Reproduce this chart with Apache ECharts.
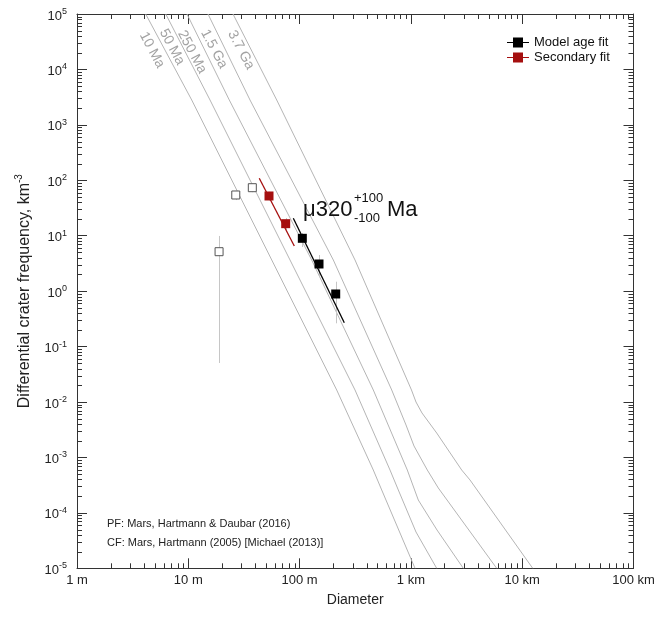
<!DOCTYPE html>
<html><head><meta charset="utf-8">
<script src="https://cdn.jsdelivr.net/npm/echarts@6/dist/echarts.min.js"></script>
<style>html,body{margin:0;padding:0;background:#fff}#c{width:661px;height:618px}</style>
</head><body><div id="c"></div>
<script>
const FONT = '"Liberation Sans", Arial, Helvetica, sans-serif';

// Isochrons: [diameter (m), differential crater frequency (km^-3)]
const iso10Ma  = [[4.14,1e5],[10.73,2809],[56.2,3.65],[215.4,0.01648],[459.4,5.93e-4],[546.5,2.59e-4],[1089,1e-5]];
const iso50Ma  = [[6.27,1e5],[15.67,2809],[82.0,3.65],[314.6,0.01648],[649,5.93e-4],[770.6,2.59e-4],[1111,4.52e-5],[1705,1e-5]];
const iso250Ma = [[9.73,1e5],[23.35,2809],[128.4,3.65],[459.4,0.01648],[928.3,5.93e-4],[1165,1.706e-4],[1716,4.91e-5],[2957,1e-5]];
const iso1_5Ga = [[15.03,1e5],[35.84,2809],[200.9,3.65],[672.3,0.01648],[903.6,3.85e-3],[1066,1.61e-3],[1404,5.93e-4],[1763,2.81e-4],[5900,1e-5]];
const iso3_7Ga = [[25.21,1e5],[62.28,2809],[314.6,3.65],[1012,0.01648],[1111,0.01],[1258,6.34e-3],[1705,2.76e-3],[2860,5.93e-4],[3396,3.92e-4],[12430,1e-5]];
const isoNames = ['10 Ma','50 Ma','250 Ma','1.5 Ga','3.7 Ga'];

// Crater counts (bin diameter m, frequency, error low, error high)
const openD  = [18.9, 26.7, 37.6];
const openN  = [5.15, 54.3, 73.5];
const openLo = [0.0506, 44, 61];
const openHi = [9.9, 64, 86];
const secD   = [53.1, 75.0];
const secN   = [52.1, 16.5];
const secLo  = [43, 12.7];
const secHi  = [62, 20.9];
const modelD  = [105.8, 149.4, 211.1];
const modelN  = [8.98, 3.09, 0.889];
const modelLo = [6.26, 1.82, 0.263];
const modelHi = [11.2, 4.49, 1.48];
// Fit lines
const modelFit = [[87.8, 20.6], [252.1, 0.27]];
const secFit   = [[43.4, 108.6], [89.6, 6.52]];

// Axis decades (tick labels)
const xDecades = [1, 10, 100, 1000, 10000, 100000];
const yDecades = [1e-5,1e-4,1e-3,1e-2,1e-1,1,10,100,1e3,1e4,1e5];
const minorMult = [2,3,4,5,6,7,8,9];
const xMinor = []; xDecades.slice(0,-1).forEach(d => minorMult.forEach(m => xMinor.push(d*m)));
const yMinor = []; yDecades.slice(0,-1).forEach(d => minorMult.forEach(m => yMinor.push(d*m)));

const chart = echarts.init(document.getElementById('c'), null, {renderer:'canvas'});

const fmtD = v => { v = Math.round(v); return v >= 1000 ? (v/1000) + ' km' : v + ' m'; };
const fmtN = v => { const e = Math.round(Math.log10(v)); return '{b|10}{e|' + e + '}'; };

function errRender(params, api){
  const x = api.value(0), lo = api.value(1), hi = api.value(2);
  const a = api.coord([x, lo]), b = api.coord([x, hi]);
  const px = Math.round(a[0]) + 0.5;
  return {type:'line', shape:{x1:px, y1:a[1], x2:px, y2:b[1]}, style:{stroke:'#c6c6c6', lineWidth:1}};
}
function xMinorRender(params, api){
  const cs = params.coordSys;
  const px = Math.round(api.coord([api.value(0), 1])[0]) + 0.5;
  const b = cs.y + cs.height, t = cs.y;
  return {type:'group', children:[
    {type:'line', shape:{x1:px, y1:b, x2:px, y2:b-5}, style:{stroke:'#333', lineWidth:1}},
    {type:'line', shape:{x1:px, y1:t, x2:px, y2:t+5}, style:{stroke:'#333', lineWidth:1}}
  ]};
}
function yMinorRender(params, api){
  const cs = params.coordSys;
  const py = Math.round(api.coord([1, api.value(1)])[1]) + 0.5;
  const l = cs.x, r = cs.x + cs.width;
  return {type:'group', children:[
    {type:'line', shape:{x1:l, y1:py, x2:l+5, y2:py}, style:{stroke:'#333', lineWidth:1}},
    {type:'line', shape:{x1:r, y1:py, x2:r-5, y2:py}, style:{stroke:'#333', lineWidth:1}}
  ]};
}

const axisLineStyle = {show:true, onZero:false, lineStyle:{color:'#333', width:1}};
const axisTickStyle = {show:true, inside:true, length:10, lineStyle:{color:'#333', width:1}};

const xBase = {type:'log', logBase:10, min:1, max:100000, interval:1, gridIndex:0,
  axisLine:axisLineStyle, axisTick:axisTickStyle, splitLine:{show:false}, minorTick:{show:false}};
const yBase = {type:'log', logBase:10, min:1e-5, max:1e5, interval:1, gridIndex:0,
  axisLine:axisLineStyle, axisTick:axisTickStyle, splitLine:{show:false}, minorTick:{show:false}};

const isoData = [iso10Ma, iso50Ma, iso250Ma, iso1_5Ga, iso3_7Ga];
const series = isoData.map((d, i) => ({
  name: isoNames[i], type:'line', data:d, showSymbol:false, symbol:'none', z:1,
  lineStyle:{color:'#b5b5b5', width:1}, silent:true, clip:true
}));

const RED = '#a50f0f';
series.push(
  {name:'errors', type:'custom', renderItem:errRender, z:2, silent:true,
   encode:{x:0, y:[1,2]},
   data: openD.map((d,i)=>[d, openLo[i], openHi[i]])
     .concat(secD.map((d,i)=>[d, secLo[i], secHi[i]]))
     .concat(modelD.map((d,i)=>[d, modelLo[i], modelHi[i]]))},
  {name:'secFit', type:'line', data:secFit, showSymbol:false, symbol:'none', z:3,
   lineStyle:{color:RED, width:1.3}, silent:true},
  {name:'modelFit', type:'line', data:modelFit, showSymbol:false, symbol:'none', z:3,
   lineStyle:{color:'#000', width:1.3}, silent:true},
  {name:'Other bins', type:'scatter', data:openD.map((d,i)=>[d, openN[i]]), symbol:'rect', symbolSize:8, z:4,
   itemStyle:{color:'#fff', borderColor:'#555', borderWidth:1, opacity:1}, silent:true},
  {name:'Secondary fit', type:'scatter', data:secD.map((d,i)=>[d, secN[i]]), symbol:'rect', symbolSize:9, z:4,
   itemStyle:{color:RED, opacity:1}, silent:true},
  {name:'Model age fit', type:'scatter', data:modelD.map((d,i)=>[d, modelN[i]]), symbol:'rect', symbolSize:9, z:4,
   itemStyle:{color:'#000', opacity:1}, silent:true},
  {name:'xminor', type:'custom', renderItem:xMinorRender, z:5, silent:true, encode:{x:0, y:1},
   data:xMinor.map(v=>[v, 1])},
  {name:'yminor', type:'custom', renderItem:yMinorRender, z:5, silent:true, encode:{x:0, y:1},
   data:yMinor.map(v=>[1, v])}
);

const ICON = 'path://M0,4.4H6V0H16V4.4H22V5.6H16V10H6V5.6H0Z';
const isoLabelPos = [[152,50],[172,47],[192,52],[214,49],[241,50]];
const ROT = -62 * Math.PI / 180;

const graphic = isoNames.map((t, i) => ({
  type:'text', x:isoLabelPos[i][0], y:isoLabelPos[i][1], rotation:ROT, silent:true, z:10,
  style:{text:t, font:'14px ' + FONT, fill:'#a3a3a3', align:'center', verticalAlign:'middle',
         textAlign:'center', textVerticalAlign:'middle'}
}));
const txt = (t, x, y, size, color, align) => ({type:'text', x:x, y:y, silent:true, z:10,
  style:{text:t, font:size + 'px ' + FONT, fill:color, align:align||'left', verticalAlign:'middle',
         textAlign:align||'left', textVerticalAlign:'middle'}});
graphic.push(
  txt('\u03bc320', 303, 209.5, 22, '#111'),
  txt('+100', 354, 198, 13, '#111'),
  txt('-100', 354, 218.5, 13, '#111'),
  txt('Ma', 387, 209.5, 22, '#111'),
  txt('PF: Mars, Hartmann & Daubar (2016)', 107, 524, 11, '#222'),
  txt('CF: Mars, Hartmann (2005) [Michael (2013)]', 107, 542.5, 11, '#222')
);

chart.setOption({
  animation:false,
  backgroundColor:'#fff',
  grid:{left:77, top:14, right:27.5, bottom:49.7, containLabel:false},
  xAxis:[
    Object.assign({}, xBase, {position:'bottom',
      axisLabel:{show:true, margin:6, fontFamily:FONT, fontSize:13, color:'#222', formatter:fmtD,
                 showMinLabel:true, showMaxLabel:true, hideOverlap:false},
      name:'Diameter', nameLocation:'middle', nameGap:25,
      nameTextStyle:{fontFamily:FONT, fontSize:14, color:'#222'}}),
    Object.assign({}, xBase, {position:'top', axisLabel:{show:false}})
  ],
  yAxis:[
    Object.assign({}, yBase, {position:'left',
      axisLabel:{show:true, margin:10, formatter:fmtN, showMinLabel:true, showMaxLabel:true, hideOverlap:false,
        rich:{b:{fontSize:13, fontFamily:FONT, color:'#222', lineHeight:14, padding:[4,0,0,0]},
              e:{fontSize:9, fontFamily:FONT, color:'#222', lineHeight:10, verticalAlign:'top'}}},
      name:'{t|Differential crater frequency, km}{s|-3}', nameLocation:'middle', nameGap:45, nameRotate:90,
      nameTextStyle:{rich:{t:{fontFamily:FONT, fontSize:16, color:'#222', lineHeight:18, padding:[4,0,0,0]},
                           s:{fontFamily:FONT, fontSize:10, color:'#222', lineHeight:11, verticalAlign:'top'}}}}),
    Object.assign({}, yBase, {position:'right', axisLabel:{show:false}})
  ],
  legend:{data:[{name:'Model age fit', icon:ICON},{name:'Secondary fit', icon:ICON}],
    orient:'vertical', left:507, top:36, itemWidth:22, itemHeight:10, itemGap:2, padding:0,
    selectedMode:false, textStyle:{fontFamily:FONT, fontSize:13, color:'#111', lineHeight:13}},
  graphic:graphic,
  series:series
});
</script></body></html>
